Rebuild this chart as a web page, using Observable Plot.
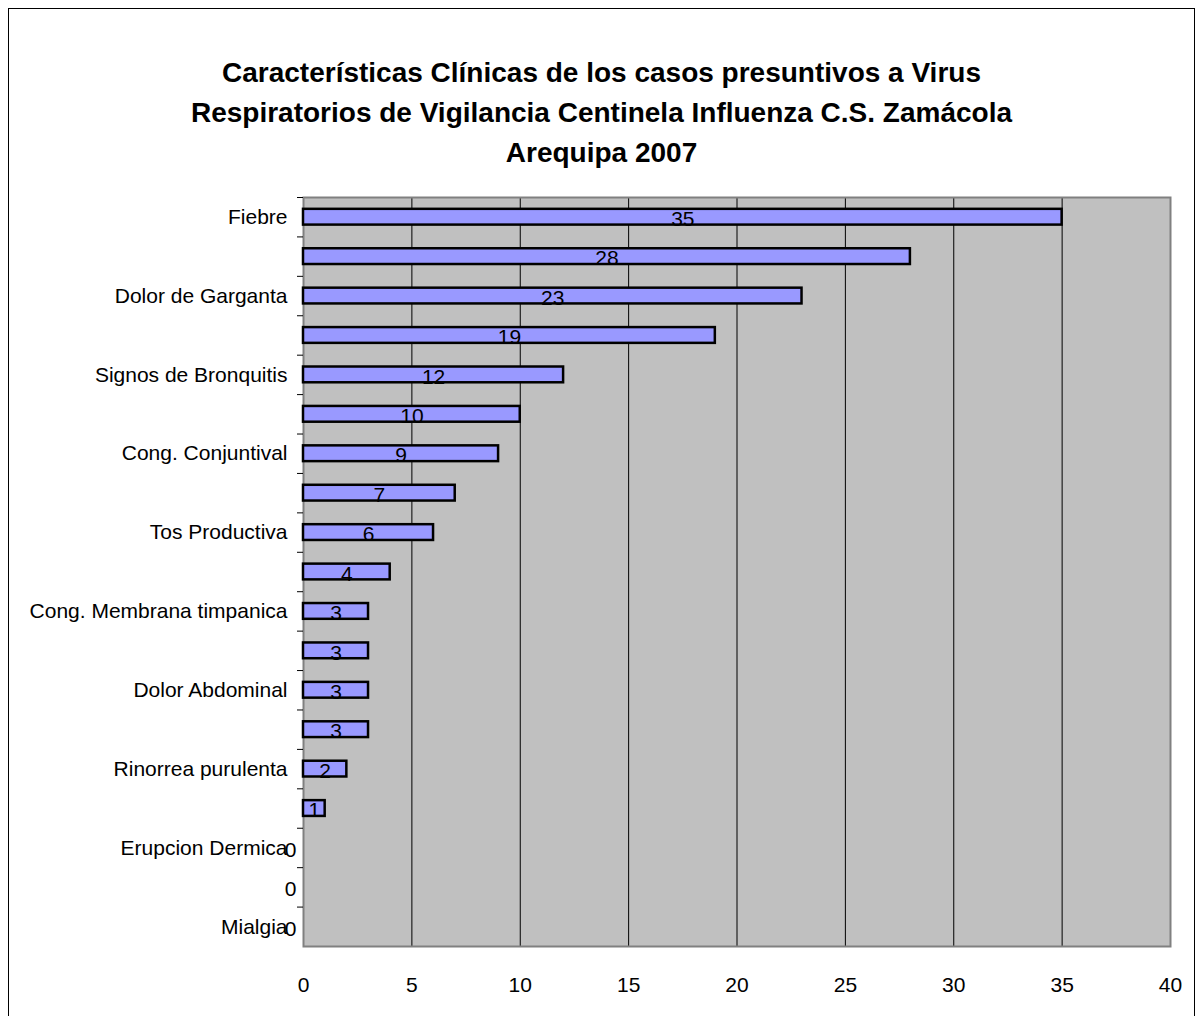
<!DOCTYPE html>
<html>
<head>
<meta charset="utf-8">
<script src="https://cdn.jsdelivr.net/npm/d3@7"></script>
<script src="https://cdn.jsdelivr.net/npm/@observablehq/plot@0.6"></script>
<style>
  html, body { margin: 0; padding: 0; background: #fff; overflow: hidden; width: 1203px; height: 1016px; }
  #border { position: absolute; left: 8px; top: 8px; width: 1187px; height: 1100px; border: 1px solid #000; box-sizing: border-box; }
  #title { position: absolute; left: 0; top: 53px; width: 1203px; text-align: center; font-family: "Liberation Sans", Arial, sans-serif; font-weight: bold; font-size: 28px; line-height: 40px; color: #000; }
  #chart { position: absolute; left: 0; top: 180px; }
</style>
</head>
<body>
<div id="border"></div>
<div id="title">Características Clínicas de los casos presuntivos a Virus<br>Respiratorios de Vigilancia Centinela Influenza C.S. Zamácola<br>Arequipa 2007</div>
<div id="chart"></div>
<script>
// Categories (odd rows have no visible label in the original)
const categoryLabels = [
  "Fiebre", "", "Dolor de Garganta", "", "Signos de Bronquitis", "",
  "Cong. Conjuntival", "", "Tos Productiva", "", "Cong. Membrana timpanica", "",
  "Dolor Abdominal", "", "Rinorrea purulenta", "", "Erupcion Dermica", "", "Mialgia"
];
const values = [35, 28, 23, 19, 12, 10, 9, 7, 6, 4, 3, 3, 3, 3, 2, 1, 0, 0, 0];
const xTicks = [0, 5, 10, 15, 20, 25, 30, 35, 40];
const gridValues = [5, 10, 15, 20, 25, 30, 35];

const rows = values.map((v, i) => ({i, label: categoryLabels[i], value: v}));
const idx = rows.map(d => d.i);

const W = 1203, H = 836, mT = 17, mB = 70, mL = 303, mR = 33;
const step = (H - mT - mB) / rows.length;
const font = "'Liberation Sans', Arial, sans-serif";

const chart = Plot.plot({
  width: W,
  height: H,
  marginTop: mT,
  marginBottom: mB,
  marginLeft: mL,
  marginRight: mR,
  style: {fontFamily: font, fontSize: "21px", color: "#000", background: "transparent", overflow: "visible"},
  x: {domain: [0, 40], axis: null, label: null},
  y: {domain: idx, paddingInner: 0.6, paddingOuter: 0.3, round: false, axis: null, label: null},
  marks: [
    Plot.frame({fill: "#c0c0c0", stroke: null}),
    Plot.ruleX(gridValues, {stroke: "#000", strokeWidth: 1}),
    Plot.frame({stroke: "#808080", strokeWidth: 2}),
    Plot.barX(rows, {y: "i", x: "value", fill: "#9999ff", stroke: "#000", strokeWidth: 2.5}),
    Plot.text(rows.filter(d => d.value !== 0), {
      y: "i", x: d => d.value / 2, text: d => String(d.value),
      textAnchor: "middle", dy: 2, fill: "#000", fontSize: 21
    }),
    Plot.text(rows.filter(d => d.value === 0), {
      y: "i", x: "value", text: d => String(d.value),
      textAnchor: "end", dx: -7, dy: 2, fill: "#000", fontSize: 21
    }),
    Plot.axisY({ticks: idx, tickSize: 6, tickFormat: () => "", dy: -step / 2, stroke: "#000", label: null}),
    Plot.axisY({ticks: idx, tickSize: 0, tickPadding: 16, tickFormat: i => categoryLabels[i], fontSize: 21, label: null}),
    Plot.axisX({ticks: xTicks, tickSize: 0, tickPadding: 31, tickFormat: d => String(d), fontSize: 21, label: null})
  ]
});
document.getElementById("chart").appendChild(chart);
</script>
</body>
</html>
